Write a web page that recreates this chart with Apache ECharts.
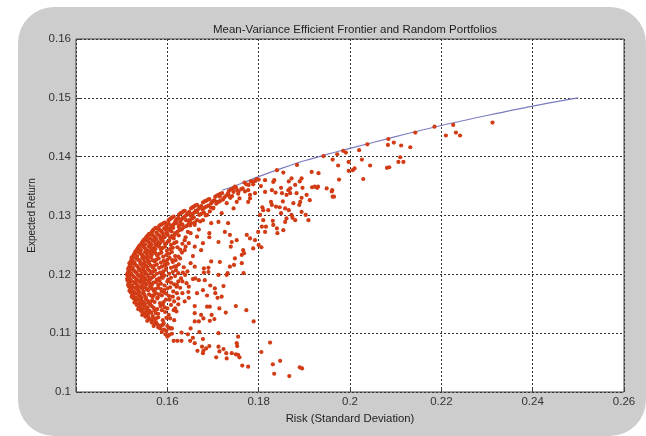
<!DOCTYPE html>
<html>
<head>
<meta charset="utf-8">
<script src="https://cdn.jsdelivr.net/npm/echarts@6/dist/echarts.min.js"></script>
<style>
html,body{margin:0;padding:0;background:#fff;}
#wrap{position:relative;width:646px;height:436px;overflow:hidden;background:#fff;}
#frame{position:absolute;left:18px;top:7px;width:628px;height:429px;border-radius:36px;background:#cdcdcd;}
#chart{position:absolute;left:0;top:0;width:646px;height:436px;}
</style>
</head>
<body>
<div id="wrap"><div id="frame"></div><div id="chart"></div></div>
<script>
const chartTitle = 'Mean-Variance Efficient Frontier and Random Portfolios';
const xAxisTitle = 'Risk (Standard Deviation)';
const yAxisTitle = 'Expected Return';
const xTickLabels = ['', '0.16', '0.18', '0.2', '0.22', '0.24', '0.26'];
const yTickLabels = ['0.1', '0.11', '0.12', '0.13', '0.14', '0.15', '0.16'];

// efficient frontier [risk, return]
const frontier = [
  [0.1720,0.1343],[0.1760,0.1354],[0.1800,0.1366],[0.1850,0.1380],[0.1900,0.1393],
  [0.1950,0.1404],[0.2000,0.1414],[0.2100,0.1434],[0.2200,0.1453],[0.2300,0.1470],
  [0.2400,0.1486],[0.2500,0.1500]
];

// dense core of random portfolios near minimum variance
const portfoliosCore = [
  [0.1600,0.1094],[0.1596,0.1098],[0.1604,0.1097],[0.1610,0.1099],
  [0.1588,0.1102],[0.1593,0.1106],[0.1585,0.1108],[0.1598,0.1104],[0.1605,0.1109],[0.1580,0.1110],
  [0.1570,0.1112],[0.1578,0.1115],[0.1566,0.1118],[0.1585,0.1113],[0.1592,0.1117],[0.1600,0.1112],[0.1575,0.1119],
  [0.1556,0.1121],[0.1562,0.1124],[0.1552,0.1128],[0.1570,0.1123],[0.1580,0.1127],[0.1568,0.1129],[0.1590,0.1122],[0.1598,0.1126],
  [0.1545,0.1131],[0.1550,0.1134],[0.1542,0.1138],[0.1558,0.1132],[0.1556,0.1137],[0.1565,0.1135],[0.1572,0.1139],[0.1580,0.1133],[0.1595,0.1136],
  [0.1536,0.1141],[0.1540,0.1145],[0.1533,0.1148],[0.1546,0.1142],[0.1550,0.1147],[0.1557,0.1144],[0.1562,0.1149],[0.1570,0.1143],[0.1585,0.1146],[0.1600,0.1142],[0.1590,0.1149],
  [0.1528,0.1152],[0.1532,0.1156],[0.1526,0.1159],[0.1538,0.1151],[0.1541,0.1157],[0.1548,0.1153],[0.1553,0.1158],[0.1560,0.1151],[0.1567,0.1156],[0.1578,0.1159],[0.1592,0.1153],[0.1605,0.1157],
  [0.1522,0.1162],[0.1526,0.1166],[0.1520,0.1169],[0.1531,0.1161],[0.1535,0.1167],[0.1541,0.1163],[0.1547,0.1168],[0.1553,0.1161],[0.1560,0.1166],[0.1568,0.1162],[0.1575,0.1168],[0.1588,0.1164],[0.1598,0.1167],[0.1612,0.1162],
  [0.1517,0.1172],[0.1521,0.1176],[0.1516,0.1179],[0.1526,0.1171],[0.1530,0.1177],[0.1536,0.1173],[0.1542,0.1178],[0.1548,0.1171],[0.1555,0.1175],[0.1562,0.1179],[0.1570,0.1172],[0.1580,0.1177],[0.1593,0.1173],[0.1606,0.1178],
  [0.1514,0.1182],[0.1518,0.1186],[0.1513,0.1189],[0.1523,0.1181],[0.1527,0.1187],[0.1533,0.1183],[0.1539,0.1188],[0.1545,0.1181],[0.1551,0.1185],[0.1558,0.1189],[0.1566,0.1182],[0.1575,0.1187],[0.1586,0.1184],[0.1600,0.1188],[0.1615,0.1183],
  [0.1512,0.1192],[0.1516,0.1196],[0.1512,0.1199],[0.1520,0.1191],[0.1525,0.1197],[0.1531,0.1193],[0.1537,0.1198],[0.1543,0.1191],[0.1549,0.1195],[0.1556,0.1199],[0.1563,0.1192],[0.1571,0.1197],[0.1582,0.1193],[0.1594,0.1198],[0.1608,0.1194],
  [0.1513,0.1202],[0.1517,0.1206],[0.1514,0.1209],[0.1521,0.1201],[0.1526,0.1207],[0.1532,0.1203],[0.1538,0.1208],[0.1544,0.1201],[0.1550,0.1205],[0.1557,0.1209],[0.1565,0.1202],[0.1573,0.1207],[0.1584,0.1203],[0.1597,0.1208],[0.1612,0.1204],
  [0.1516,0.1212],[0.1519,0.1216],[0.1517,0.1219],[0.1524,0.1211],[0.1529,0.1217],[0.1535,0.1213],[0.1541,0.1218],[0.1547,0.1211],[0.1553,0.1215],[0.1560,0.1219],[0.1568,0.1212],[0.1577,0.1217],[0.1588,0.1213],[0.1601,0.1218],[0.1620,0.1214],
  [0.1520,0.1222],[0.1523,0.1226],[0.1522,0.1229],[0.1528,0.1221],[0.1533,0.1227],[0.1539,0.1223],[0.1545,0.1228],[0.1551,0.1221],[0.1557,0.1225],[0.1564,0.1229],[0.1572,0.1222],[0.1581,0.1227],[0.1592,0.1223],[0.1605,0.1228],[0.1618,0.1224],
  [0.1526,0.1232],[0.1529,0.1236],[0.1530,0.1239],[0.1534,0.1231],[0.1539,0.1237],[0.1545,0.1233],[0.1551,0.1238],[0.1557,0.1231],[0.1563,0.1235],[0.1570,0.1239],[0.1578,0.1232],[0.1587,0.1237],[0.1598,0.1233],[0.1610,0.1238],
  [0.1534,0.1242],[0.1537,0.1246],[0.1539,0.1249],[0.1542,0.1241],[0.1547,0.1247],[0.1553,0.1243],[0.1559,0.1248],[0.1565,0.1241],[0.1571,0.1245],[0.1578,0.1249],[0.1586,0.1242],[0.1595,0.1247],[0.1606,0.1243],[0.1622,0.1246],
  [0.1543,0.1252],[0.1546,0.1256],[0.1549,0.1259],[0.1551,0.1251],[0.1556,0.1257],[0.1562,0.1253],[0.1568,0.1258],[0.1574,0.1251],[0.1580,0.1255],[0.1587,0.1259],[0.1595,0.1252],[0.1604,0.1257],[0.1615,0.1253],
  [0.1553,0.1262],[0.1557,0.1266],[0.1560,0.1269],[0.1562,0.1261],[0.1567,0.1267],[0.1573,0.1263],[0.1579,0.1268],[0.1585,0.1261],[0.1591,0.1265],[0.1598,0.1269],[0.1606,0.1262],[0.1616,0.1267],
  [0.1566,0.1272],[0.1570,0.1276],[0.1574,0.1279],[0.1576,0.1271],[0.1581,0.1277],[0.1587,0.1273],[0.1593,0.1278],[0.1599,0.1271],[0.1606,0.1275],[0.1613,0.1279],[0.1622,0.1272],[0.1632,0.1277],
  [0.1582,0.1282],[0.1588,0.1285],[0.1595,0.1288],[0.1597,0.1281],[0.1603,0.1286],[0.1610,0.1283],[0.1617,0.1288],[0.1625,0.1281],[0.1633,0.1285],[0.1642,0.1282],[0.1652,0.1287],
  [0.1603,0.1292],[0.1608,0.1295],[0.1614,0.1298],[0.1618,0.1291],[0.1624,0.1296],[0.1631,0.1293],[0.1638,0.1298],[0.1646,0.1291],[0.1655,0.1295],[0.1665,0.1292],
  [0.1626,0.1302],[0.1632,0.1305],[0.1638,0.1308],[0.1642,0.1301],[0.1648,0.1306],[0.1655,0.1303],[0.1662,0.1308],[0.1670,0.1301],[0.1680,0.1305],
  [0.1652,0.1312],[0.1658,0.1315],[0.1665,0.1318],[0.1668,0.1311],[0.1674,0.1316],[0.1681,0.1313],[0.1690,0.1317],[0.1700,0.1312],
  [0.1678,0.1322],[0.1685,0.1325],[0.1692,0.1328],[0.1696,0.1321],[0.1703,0.1326],[0.1712,0.1323],[0.1722,0.1327],
  [0.1705,0.1332],[0.1712,0.1335],[0.1720,0.1338],[0.1725,0.1331],[0.1733,0.1336],[0.1742,0.1333],
  [0.1735,0.1342],[0.1742,0.1345],[0.1750,0.1348],[0.1756,0.1341],[0.1765,0.1346],
  [0.1738,0.1330],[0.1755,0.1337],[0.1762,0.1345],[0.1770,0.1341],[0.1758,0.1329]
];

// further portfolios filling the dense core
const portfoliosCoreFill = [
  [0.1573,0.1116],[0.1582,0.1111],[0.1590,0.1114],
  [0.1559,0.1126],[0.1565,0.1121],[0.1575,0.1125],
  [0.1547,0.1136],[0.1553,0.1130],[0.1561,0.1138],
  [0.1538,0.1143],[0.1544,0.1149],[0.1553,0.1141],[0.1566,0.1146],
  [0.1530,0.1154],[0.1535,0.1158],[0.1544,0.1155],[0.1551,0.1150],[0.1557,0.1155],[0.1572,0.1153],
  [0.1524,0.1164],[0.1529,0.1168],[0.1538,0.1164],[0.1544,0.1160],[0.1550,0.1165],[0.1564,0.1164],[0.1582,0.1166],
  [0.1519,0.1174],[0.1523,0.1178],[0.1533,0.1175],[0.1539,0.1170],[0.1545,0.1176],[0.1552,0.1178],[0.1566,0.1176],[0.1586,0.1175],
  [0.1516,0.1184],[0.1520,0.1188],[0.1530,0.1185],[0.1536,0.1180],[0.1542,0.1186],[0.1548,0.1188],[0.1562,0.1185],[0.1580,0.1182],
  [0.1514,0.1194],[0.1518,0.1198],[0.1528,0.1195],[0.1534,0.1190],[0.1540,0.1196],[0.1552,0.1192],[0.1567,0.1195],[0.1588,0.1196],
  [0.1515,0.1204],[0.1519,0.1208],[0.1529,0.1205],[0.1535,0.1200],[0.1541,0.1206],[0.1553,0.1202],[0.1569,0.1205],[0.1590,0.1201],
  [0.1518,0.1214],[0.1522,0.1218],[0.1532,0.1215],[0.1538,0.1210],[0.1544,0.1216],[0.1556,0.1212],[0.1572,0.1215],[0.1594,0.1216],
  [0.1521,0.1224],[0.1526,0.1228],[0.1536,0.1225],[0.1542,0.1220],[0.1548,0.1226],[0.1560,0.1222],[0.1576,0.1225],[0.1598,0.1221],
  [0.1527,0.1234],[0.1532,0.1238],[0.1542,0.1235],[0.1548,0.1230],[0.1554,0.1236],[0.1566,0.1233],[0.1582,0.1235],
  [0.1535,0.1244],[0.1540,0.1248],[0.1550,0.1245],[0.1556,0.1240],[0.1562,0.1246],[0.1574,0.1243],[0.1590,0.1245],
  [0.1545,0.1254],[0.1551,0.1258],[0.1559,0.1255],[0.1565,0.1250],[0.1571,0.1256],[0.1584,0.1253],[0.1600,0.1255],
  [0.1555,0.1264],[0.1563,0.1268],[0.1570,0.1265],[0.1576,0.1260],[0.1582,0.1266],[0.1594,0.1263],[0.1610,0.1265],
  [0.1568,0.1274],[0.1578,0.1278],[0.1584,0.1275],[0.1590,0.1270],[0.1596,0.1276],[0.1609,0.1273],[0.1626,0.1275],
  [0.1585,0.1284],[0.1592,0.1287],[0.1600,0.1284],[0.1607,0.1280],[0.1614,0.1285],[0.1628,0.1284],[0.1646,0.1285],
  [0.1606,0.1294],[0.1611,0.1297],[0.1621,0.1294],[0.1628,0.1290],[0.1634,0.1296],[0.1650,0.1293],
  [0.1629,0.1304],[0.1635,0.1307],[0.1645,0.1304],[0.1651,0.1300],[0.1659,0.1305],[0.1674,0.1303],
  [0.1655,0.1314],[0.1661,0.1317],[0.1671,0.1314],[0.1677,0.1310],[0.1685,0.1315],[0.1695,0.1314],
  [0.1681,0.1324],[0.1689,0.1327],[0.1699,0.1324],[0.1707,0.1320],[0.1716,0.1325],
  [0.1709,0.1334],[0.1716,0.1337],[0.1729,0.1334],[0.1737,0.1332],
  [0.1739,0.1344],[0.1746,0.1347],[0.1753,0.1343]
];

// outer, looser part of the core
const portfoliosCoreOuter = [
  [0.1575,0.1134],[0.1588,0.1139],[0.1603,0.1131],
  [0.1578,0.1141],[0.1594,0.1144],[0.1608,0.1148],
  [0.1563,0.1153],[0.1584,0.1151],[0.1597,0.1157],[0.1615,0.1154],
  [0.1571,0.1165],[0.1579,0.1161],[0.1593,0.1169],[0.1604,0.1163],[0.1621,0.1168],
  [0.1558,0.1173],[0.1574,0.1175],[0.1588,0.1171],[0.1600,0.1176],[0.1613,0.1171],[0.1628,0.1177],
  [0.1554,0.1183],[0.1570,0.1186],[0.1583,0.1189],[0.1594,0.1181],[0.1608,0.1186],[0.1624,0.1188],
  [0.1546,0.1197],[0.1560,0.1195],[0.1577,0.1191],[0.1590,0.1194],[0.1602,0.1191],[0.1617,0.1197],[0.1630,0.1193],
  [0.1547,0.1208],[0.1561,0.1206],[0.1577,0.1201],[0.1591,0.1205],[0.1604,0.1201],[0.1619,0.1207],[0.1634,0.1203],
  [0.1550,0.1218],[0.1564,0.1215],[0.1582,0.1211],[0.1596,0.1214],[0.1608,0.1211],[0.1625,0.1217],[0.1636,0.1212],
  [0.1554,0.1229],[0.1568,0.1224],[0.1586,0.1220],[0.1600,0.1225],[0.1612,0.1221],[0.1628,0.1227],
  [0.1560,0.1239],[0.1574,0.1236],[0.1591,0.1230],[0.1604,0.1235],[0.1617,0.1231],[0.1632,0.1237],
  [0.1568,0.1243],[0.1582,0.1247],[0.1599,0.1240],[0.1612,0.1245],[0.1628,0.1242],[0.1640,0.1247],
  [0.1577,0.1251],[0.1590,0.1257],[0.1608,0.1250],[0.1620,0.1255],[0.1633,0.1252],
  [0.1588,0.1262],[0.1601,0.1267],[0.1614,0.1261],[0.1625,0.1266],[0.1640,0.1263],
  [0.1603,0.1277],[0.1617,0.1270],[0.1630,0.1276],[0.1645,0.1272],
  [0.1620,0.1287],[0.1636,0.1280],[0.1650,0.1283],[0.1660,0.1288],
  [0.1641,0.1292],[0.1658,0.1297],[0.1672,0.1290],
  [0.1665,0.1306],[0.1684,0.1300],[0.1693,0.1307]
];

// scattered portfolios right of the core, risk below 0.17
const portfoliosInner = [
  [0.1680,0.1203],[0.1680,0.1210],[0.1690,0.1211],[0.1696,0.1222],[0.1692,0.1270],[0.1692,0.1263],
  [0.1678,0.1253],[0.1674,0.1241],[0.1660,0.1247],[0.1656,0.1231],[0.1651,0.1219],[0.1660,0.1213],
  [0.1644,0.1205],[0.1669,0.1190],[0.1656,0.1192],[0.1642,0.1185],[0.1647,0.1179],[0.1633,0.1188],
  [0.1620,0.1179],[0.1624,0.1202],[0.1615,0.1213],[0.1611,0.1224],[0.1624,0.1230],[0.1638,0.1241],
  [0.1647,0.1253],[0.1638,0.1258],[0.1665,0.1264],[0.1651,0.1270],[0.1669,0.1276],[0.1660,0.1284],
  [0.1678,0.1292],[0.1687,0.1301],[0.1701,0.1313],[0.1696,0.1287],
  [0.1606,0.1125],[0.1610,0.1108],[0.1679,0.1125],[0.1697,0.1131],[0.1624,0.1159],[0.1646,0.1170],
  [0.1639,0.1199],[0.1661,0.1193],[0.1682,0.1190],[0.1704,0.1176],[0.1690,0.1204],[0.1712,0.1199],
  [0.1621,0.1182],[0.1617,0.1142]
];

// scattered portfolios in the middle (risk 0.17 to 0.197)
const portfoliosMid = [
  [0.1854,0.1373],[0.1872,0.1363],[0.1880,0.1352],[0.1894,0.1363],[0.1916,0.1374],[0.1931,0.1372],
  [0.1949,0.1346],[0.1960,0.1341],[0.1923,0.1349],[0.1905,0.1335],[0.1891,0.1323],[0.1883,0.1338],
  [0.1865,0.1343],[0.1851,0.1338],[0.1832,0.1357],[0.1829,0.1343],[0.1814,0.1340],[0.1814,0.1360],
  [0.1792,0.1338],[0.1777,0.1343],[0.1781,0.1329],[0.1777,0.1323],[0.1748,0.1349],[0.1745,0.1340],
  [0.1733,0.1338],[0.1752,0.1323],[0.1745,0.1312],[0.1730,0.1321],[0.1715,0.1332],[0.1708,0.1323],
  [0.1719,0.1304],[0.1712,0.1289],[0.1733,0.1287],[0.1726,0.1272],[0.1737,0.1267],[0.1741,0.1255],
  [0.1752,0.1258],[0.1712,0.1255],[0.1774,0.1267],[0.1781,0.1261],[0.1766,0.1241],[0.1763,0.1233],
  [0.1748,0.1227],[0.1737,0.1213],[0.1730,0.1199],[0.1763,0.1219],[0.1715,0.1221],[0.1788,0.1244],
  [0.1792,0.1258],[0.1799,0.1272],[0.1807,0.1281],[0.1814,0.1272],[0.1816,0.1281],[0.1810,0.1292],
  [0.1803,0.1301],[0.1821,0.1309],[0.1810,0.1309],[0.1829,0.1318],[0.1832,0.1284],[0.1840,0.1278],
  [0.1841,0.1270],[0.1858,0.1289],[0.1861,0.1295],[0.1854,0.1275],[0.1872,0.1301],[0.1874,0.1296],
  [0.1876,0.1321],[0.1858,0.1312],[0.1894,0.1306],[0.1909,0.1292],[0.1869,0.1338],
  [0.1800,0.1250],[0.1806,0.1246],[0.1849,0.1304],[0.1866,0.1309],[0.1880,0.1292],[0.1903,0.1301],
  [0.1831,0.1291],[0.1767,0.1202],[0.1705,0.1168],[0.1710,0.1160],[0.1719,0.1162],[0.1723,0.1180],
  [0.1732,0.1202],[0.1746,0.1216],[0.1768,0.1236],[0.1739,0.1247],[0.1912,0.1326],[0.1930,0.1349],
  [0.1965,0.1332]
];

// portfolios along the upper frontier (risk above 0.176)
const portfoliosUpper = [
  [0.2312,0.1458],[0.2226,0.1454],[0.2185,0.1451],[0.2210,0.1436],[0.2232,0.1441],[0.2241,0.1436],
  [0.2143,0.1441],[0.2084,0.1430],[0.2096,0.1424],[0.2083,0.1420],[0.2112,0.1419],[0.2132,0.1416],
  [0.2038,0.1421],[0.2020,0.1411],[0.2026,0.1395],[0.2044,0.1385],[0.2029,0.1362],[0.2010,0.1380],
  [0.2006,0.1377],[0.1997,0.1391],[0.1997,0.1376],[0.1991,0.1407],[0.1985,0.1410],[0.1972,0.1404],
  [0.1962,0.1395],[0.1974,0.1385],[0.1976,0.1361],[0.1942,0.1401],[0.2081,0.1381],[0.2086,0.1382],
  [0.2106,0.1391],[0.2117,0.1391],[0.2110,0.1399],
  [0.1961,0.1343],[0.1962,0.1332],[0.1928,0.1347],[0.1884,0.1386],[0.1890,0.1358],[0.1866,0.1358],
  [0.1840,0.1377],[0.1834,0.1360],[0.1849,0.1347],[0.1869,0.1346],[0.1861,0.1335],[0.1837,0.1339],
  [0.1896,0.1347],[0.1796,0.1362],[0.1800,0.1361],[0.1793,0.1359],[0.1788,0.1358],[0.1783,0.1358],
  [0.1788,0.1353],[0.1778,0.1352],[0.1773,0.1353],[0.1769,0.1356],[0.1781,0.1335],[0.1805,0.1350],
  [0.1838,0.1315],[0.1846,0.1314],[0.1853,0.1324],[0.1827,0.1323],[0.1808,0.1314],[0.1894,0.1330],
  [0.1889,0.1318],[0.1917,0.1348]
];

// sparse portfolios below return 0.12
const portfoliosLower = [
  [0.1890,0.1042],[0.1895,0.1040],[0.1867,0.1027],[0.1834,0.1031],[0.1847,0.1053],[0.1831,0.1047],
  [0.1806,0.1068],[0.1825,0.1084],[0.1777,0.1043],[0.1764,0.1045],[0.1758,0.1059],[0.1755,0.1063],
  [0.1750,0.1064],[0.1741,0.1066],[0.1753,0.1078],[0.1752,0.1083],[0.1755,0.1094],[0.1730,0.1057],
  [0.1729,0.1066],[0.1723,0.1073],[0.1707,0.1059],[0.1714,0.1069],[0.1712,0.1077],[0.1712,0.1100],
  [0.1692,0.1078],[0.1685,0.1074],[0.1678,0.1066],[0.1679,0.1070],[0.1676,0.1077],[0.1666,0.1070],
  [0.1660,0.1083],[0.1656,0.1092],[0.1670,0.1102],[0.1678,0.1090],[0.1645,0.1098],[0.1650,0.1087],
  [0.1631,0.1087],[0.1622,0.1087],[0.1614,0.1087],[0.1631,0.1101],[0.1651,0.1108],[0.1660,0.1120],
  [0.1669,0.1120],[0.1674,0.1131],[0.1660,0.1134],[0.1660,0.1146],[0.1687,0.1145],[0.1693,0.1145],
  [0.1703,0.1124],[0.1693,0.1121],[0.1714,0.1142],[0.1728,0.1135],[0.1750,0.1146],[0.1773,0.1139],
  [0.1789,0.1120],[0.1687,0.1164],[0.1694,0.1181],[0.1678,0.1173],[0.1665,0.1168],[0.1615,0.1122],
  [0.1620,0.1137],[0.1624,0.1149],[0.1638,0.1154],[0.1647,0.1160],[0.1633,0.1168],[0.1614,0.1139],
  [0.1606,0.1108]
];

const portfolios = [].concat(portfoliosCore, portfoliosCoreFill, portfoliosCoreOuter,
  portfoliosInner, portfoliosMid, portfoliosUpper, portfoliosLower);

const font = "'Liberation Sans', Arial, sans-serif";
const chart = echarts.init(document.getElementById('chart'), null, {renderer: 'canvas'});
chart.setOption({
  backgroundColor: 'transparent',
  animation: false,
  title: {
    text: chartTitle,
    left: 350, textAlign: 'center', top: 19,
    textStyle: {fontFamily: font, fontSize: 11.5, fontWeight: 'normal', color: '#222'}
  },
  grid: {
    left: 76, right: 22, top: 39, bottom: 44,
    show: true, backgroundColor: '#fff', borderColor: '#444', borderWidth: 1
  },
  xAxis: {
    type: 'value', min: 0.14, max: 0.26, interval: 0.02,
    name: xAxisTitle, nameLocation: 'middle', nameGap: 14,
    nameTextStyle: {fontFamily: font, fontSize: 11.3, color: '#222'},
    axisLine: {show: false},
    axisTick: {show: true, inside: true, length: 4, lineStyle: {color: '#444'}},
    axisLabel: {
      margin: 4, fontFamily: font, fontSize: 11.5, color: '#333',
      formatter: (v, i) => xTickLabels[i] !== undefined ? xTickLabels[i] : ''
    },
    splitLine: {show: true, lineStyle: {color: '#333', width: 1, type: [2, 2]}}
  },
  yAxis: {
    type: 'value', min: 0.1, max: 0.16, interval: 0.01,
    name: yAxisTitle, nameLocation: 'middle', nameGap: 34, nameRotate: 90,
    nameTextStyle: {fontFamily: font, fontSize: 10, color: '#222'},
    axisLine: {show: false},
    axisTick: {show: true, inside: true, length: 4, lineStyle: {color: '#444'}},
    axisLabel: {
      margin: 5, fontFamily: font, fontSize: 11.5, color: '#333',
      formatter: (v, i) => yTickLabels[i] !== undefined ? yTickLabels[i] : ''
    },
    splitLine: {show: true, lineStyle: {color: '#333', width: 1, type: [2, 2]}}
  },
  series: [
    {
      type: 'line', data: frontier, smooth: 0.3, showSymbol: false,
      lineStyle: {color: '#7c7cc0', width: 1.2}, z: 2, silent: true
    },
    {
      type: 'scatter', data: portfolios, symbol: 'circle', symbolSize: 4.2,
      large: false,
      itemStyle: {color: '#d23c14', opacity: 1}, z: 3, silent: true
    }
  ]
});
</script>
</body>
</html>
